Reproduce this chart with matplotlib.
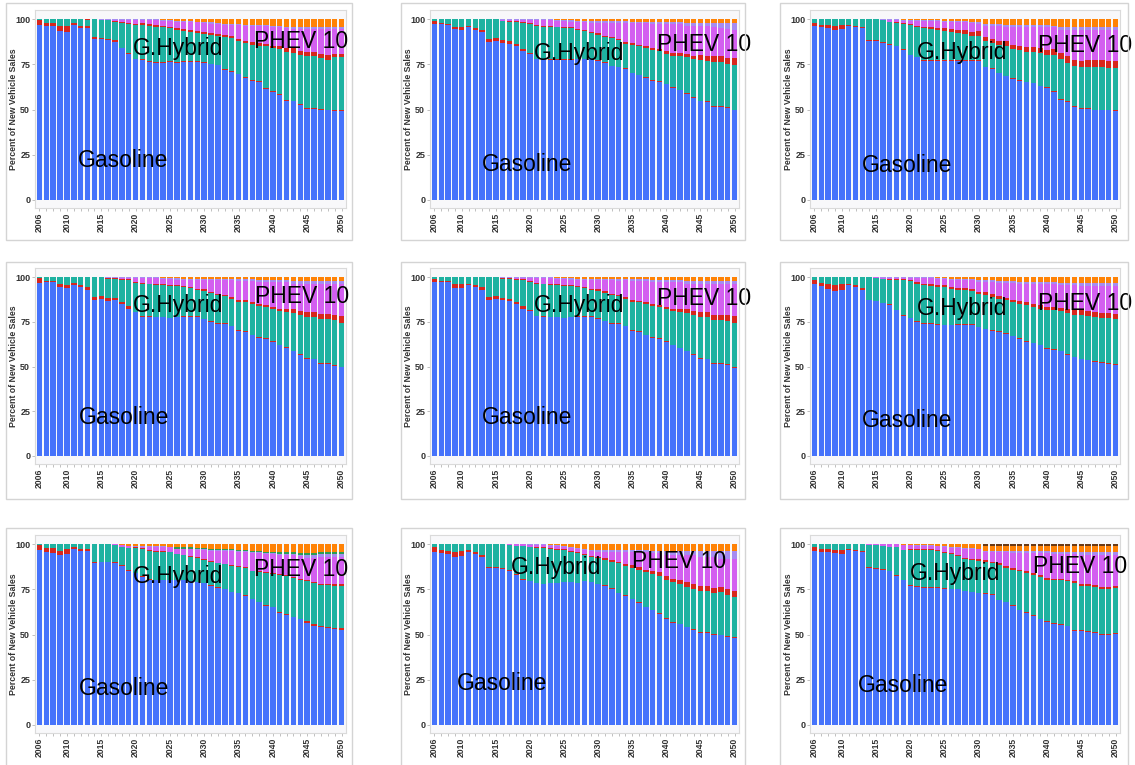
import numpy as np
import matplotlib
matplotlib.use("Agg")
import matplotlib.pyplot as plt
from matplotlib.patches import Rectangle

plt.rcParams['font.family'] = ['Liberation Sans', 'DejaVu Sans']

years = list(range(2006, 2051))
year_labels = [2006, 2010, 2015, 2020, 2025, 2030, 2035, 2040, 2045, 2050]
y_ticks = [0, 25, 50, 75, 100]

# shares of new vehicle sales, one row per scenario (left to right, top to bottom)
gasoline = [
    [97, 96.5, 96.5, 93.5, 93, 97, 95, 95, 89, 89.5, 89, 87.5, 84, 81, 78,
     77.5, 76.5, 76, 76, 76.5, 76, 76.5, 76.5, 76.5, 76, 75, 74.5, 72, 71, 69.5,
     67.5, 66, 65.5, 61.5, 60, 58, 55, 54.5, 52.5, 50.5, 50.5, 50, 49.5, 49, 49],
    [97.5, 97.5, 97, 94.5, 94, 95.5, 94, 93, 87.5, 88, 87, 86.5, 85, 82.5, 81,
     78, 78, 77.5, 77.5, 77.5, 77.5, 78, 78, 78, 77, 76, 74, 73.5, 72.5, 70,
     69, 67.5, 66, 65.5, 64, 62, 60.5, 58.5, 56.5, 54.5, 54, 51.5, 51.5, 51, 49.5],
    [96.5, 95.5, 95, 94, 94.5, 96.5, 95.5, 95, 88, 88, 87.5, 86, 85, 83, 80,
     79, 77, 77, 77, 77, 77, 77, 77, 77, 77, 73.5, 72.5, 70, 68.5, 67,
     66, 65, 64.5, 63, 62, 60, 55.5, 54, 51.5, 50.5, 50.5, 49.5, 49.5, 49.5, 49],
    [97, 97.5, 97.5, 94.5, 94, 95.5, 94.5, 93, 87.5, 88, 87, 87, 85, 82.5, 80.5,
     78, 78, 77.5, 77.5, 77, 77.5, 78, 78, 78, 76.5, 75, 74, 74, 72.5, 70,
     69.5, 67.5, 66, 65.5, 64, 62, 60.5, 58.5, 56.5, 54.5, 54, 51.5, 51.5, 50.5, 49.5],
    [97, 97.5, 97.5, 94, 94, 95.5, 94.5, 93, 87.5, 88, 87, 86.5, 85, 82.5, 81,
     78.5, 78, 77.5, 77.5, 77.5, 77.5, 78, 78, 78, 77, 75.5, 74, 73.5, 72.5, 70,
     69, 67.5, 66, 65.5, 64, 62, 60, 58.5, 56.5, 54.5, 54, 51.5, 51.5, 51, 49.5],
    [96, 95, 93.5, 92.5, 93, 95.5, 94.5, 93, 87, 86.5, 85.5, 84.5, 81.5, 78.5, 77,
     75, 74, 74, 73.5, 73, 73, 73.5, 73.5, 73.5, 72, 71, 70, 69.5, 68.5, 67,
     65.5, 64, 63, 62, 60, 59.5, 58.5, 56.5, 55, 54, 53.5, 52.5, 52, 51.5, 51],
    [97, 96, 95, 94, 94.5, 97.5, 96.5, 96.5, 89.5, 90, 90, 89.5, 88, 85.5, 84,
     82, 80.5, 80, 80, 80, 80, 80, 79.5, 79, 78.5, 77, 76, 75, 73.5, 73,
     71.5, 69.5, 68, 66, 65, 62, 61, 59.5, 58.5, 56.5, 55, 54, 53.5, 53, 52.5],
    [96, 95, 94.5, 93, 93.5, 96, 94.5, 93, 87, 87, 86.5, 85.5, 83, 80.5, 79.5,
     78.5, 78, 78.5, 78.5, 79, 79, 78.5, 79.5, 79, 78, 77, 75.5, 73, 71.5, 69.5,
     67.5, 65, 63.5, 61.5, 58.5, 56.5, 55.5, 54, 52.5, 51, 51, 50, 49.5, 48.5, 48],
    [96.5, 96, 95.5, 95, 94.5, 97, 96.5, 96, 87, 86.5, 86, 85, 82.5, 80, 77,
     76.5, 76, 76, 76, 75.5, 75, 75, 74, 73.5, 73, 72.5, 72, 69, 68, 66,
     63.5, 62, 60.5, 58.5, 57, 56, 55.5, 54.5, 52, 52, 51.5, 51, 50, 50, 50.5],
]

diesel = [
    [2.5, 1.5, 1.5, 3, 3.5, 1, 1.5, 1.5, 1, 0.8, 0.8, 1, 0.3, 0.3, 0.3,
     0.3, 0.3, 0.3, 0.3, 0.3, 0.3, 0.3, 0.3, 0.3, 0.3, 0.3, 0.3, 0.3, 0.3, 0.3,
     0.3, 0.3, 0.3, 0.5, 0.5, 0.5, 0.5, 0.5, 0.5, 0.5, 0.5, 0.5, 0.5, 0.5, 0.5],
    [1.5, 0.3, 0.3, 1.5, 1.5, 1, 1, 1.2, 1.5, 1.5, 1.5, 1.5, 1.2, 1.2, 0.3,
     0.3, 0.3, 0.3, 0.3, 0.3, 0.3, 0.3, 0.3, 0.3, 0.3, 0.3, 0.3, 0.3, 0.3, 0.3,
     0.3, 0.3, 0.3, 0.3, 0.3, 0.3, 0.3, 0.3, 0.3, 0.5, 0.5, 0.5, 0.5, 0.5, 0.5],
    [1.5, 1.5, 2, 2.5, 2.5, 0.5, 0.8, 0.8, 0.5, 0.5, 0.3, 0.3, 0.3, 0.3, 0.3,
     0.3, 0.5, 0.3, 0.3, 0.3, 0.3, 0.3, 0.3, 0.3, 0.3, 0.3, 0.3, 0.3, 0.3, 0.3,
     0.3, 0.3, 0.3, 0.3, 0.3, 0.3, 0.5, 0.5, 0.5, 0.5, 0.5, 0.5, 0.5, 0.5, 0.5],
    [2.5, 0.3, 0.3, 1.5, 1.5, 1.5, 1, 1.5, 1.5, 1.5, 1.5, 1.5, 1, 1.5, 0.3,
     0.3, 0.3, 0.3, 0.3, 0.3, 0.3, 0.3, 0.3, 0.3, 0.3, 0.3, 0.3, 0.3, 0.3, 0.3,
     0.3, 0.3, 0.3, 0.3, 0.3, 0.3, 0.3, 0.3, 0.3, 0.5, 0.5, 0.5, 0.5, 0.5, 0.5],
    [1.5, 0.3, 0.3, 2, 2, 1, 1, 1.5, 1.5, 1.5, 1, 1.5, 1, 1.5, 0.3,
     0.3, 0.3, 0.3, 0.3, 0.3, 0.3, 0.3, 0.3, 0.3, 0.3, 0.3, 0.3, 0.3, 0.3, 0.3,
     0.3, 0.3, 0.3, 0.3, 0.3, 0.3, 0.3, 0.3, 0.3, 0.5, 0.5, 0.5, 0.5, 0.5, 0.5],
    [2.5, 2, 3, 3, 3, 0.8, 1, 1, 0.5, 0.3, 0.3, 0.3, 0.3, 0.3, 0.3,
     0.3, 0.3, 0.3, 0.3, 0.3, 0.3, 0.3, 0.3, 0.3, 0.3, 0.3, 0.3, 0.3, 0.3, 0.3,
     0.3, 0.3, 0.3, 0.3, 0.3, 0.3, 0.3, 0.3, 0.3, 0.3, 0.3, 0.3, 0.3, 0.3, 0.3],
    [2.5, 2, 3, 2.5, 3, 0.8, 1, 0.8, 0.5, 0.3, 0.3, 0.5, 0.3, 0.3, 0.3,
     0.3, 0.3, 0.3, 0.3, 0.3, 0.3, 0.3, 0.3, 0.3, 0.3, 0.3, 0.3, 0.3, 0.3, 0.3,
     0.3, 0.3, 0.3, 0.3, 0.3, 0.3, 0.3, 0.3, 0.3, 1, 0.8, 0.8, 0.8, 0.8, 1],
    [2.5, 2, 2, 2.5, 3, 0.8, 1.5, 1, 0.3, 0.3, 0.3, 0.3, 0.3, 0.3, 0.3,
     0.3, 0.3, 0.3, 0.3, 0.3, 0.3, 0.3, 0.3, 0.3, 0.3, 0.3, 0.3, 0.3, 0.3, 0.3,
     0.3, 0.3, 0.3, 0.3, 0.3, 0.3, 0.3, 0.3, 0.3, 0.3, 0.5, 0.5, 0.5, 0.5, 0.5],
    [2, 1.5, 2, 2, 2.5, 0.3, 0.5, 0.5, 0.5, 0.5, 0.5, 0.3, 0.3, 0.3, 0.3,
     0.3, 0.3, 0.3, 0.3, 0.3, 0.3, 0.3, 0.3, 0.3, 0.3, 0.3, 0.3, 0.3, 0.3, 0.3,
     0.3, 0.3, 0.3, 0.3, 0.3, 0.3, 0.3, 0.3, 0.3, 0.3, 0.3, 0.3, 0.3, 0.3, 0.3],
]

g_hybrid = [
    [0.5, 2, 2, 3.5, 3.5, 2, 3.5, 3.2, 10, 9.7, 10.2, 10, 13.7, 16.2, 18.7,
     19.2, 19.7, 19.7, 19.2, 18.2, 17.7, 16.7, 16.2, 15.7, 15.7, 16.2, 16.2, 17.7, 18.2, 18.2,
     19.2, 19.7, 19.7, 23, 23.5, 25, 26.5, 26.5, 27, 28.5, 28.5, 28, 27.5, 29.5, 29.5],
    [1, 2.2, 2.7, 4, 4.5, 3.5, 5, 5.8, 11, 10.5, 10.5, 10.5, 12.3, 14.3, 16.2,
     18.2, 17.7, 18.2, 17.7, 17.2, 17.2, 15.7, 15.2, 14.2, 14.2, 13.7, 15.2, 14.7, 13.7, 15.7,
     15.7, 16.2, 16.7, 16.7, 16.5, 17.5, 18.5, 20, 21, 22.5, 22.5, 24.5, 24.5, 24, 24.5],
    [2, 3, 3, 3.5, 3, 3, 3.7, 4.2, 11.5, 11.5, 12.2, 12.2, 12.7, 14.2, 16.7,
     16.7, 17.5, 17.2, 16.7, 16.2, 15.7, 15.2, 14.7, 13.7, 13.7, 14.2, 14.2, 15.7, 16.7, 16.2,
     16.7, 16.7, 17.2, 18.2, 18.2, 20.2, 22, 21.5, 22, 22.5, 22.5, 23.5, 23.5, 23, 23.5],
    [0.5, 2.2, 2.2, 4, 4.5, 3, 4.5, 5.5, 11, 10.5, 11, 10.5, 12.5, 14.5, 16.2,
     18.2, 17.7, 17.7, 17.7, 17.7, 17.2, 16.2, 15.7, 14.7, 15.7, 15.7, 15.7, 15.2, 15.2, 15.7,
     16.2, 17.2, 17.7, 17.7, 17.7, 18.7, 19.7, 21.2, 22.2, 23, 23.5, 24.5, 24.5, 25, 24.5],
    [1, 2.2, 2.2, 4, 4, 3.5, 4.5, 5.5, 11, 10.5, 11, 11, 12.5, 14.5, 16,
     18, 17.7, 17.7, 17.7, 17.7, 17.2, 16.2, 15.7, 14.7, 15.7, 15.7, 15.7, 15.2, 15.2, 15.7,
     16.2, 17.2, 17.7, 17.7, 17.7, 18.7, 20, 21.2, 22.2, 23, 23.5, 24.5, 24.5, 24.5, 24.5],
    [1.5, 3, 3.5, 4.5, 4, 3.7, 4.5, 6, 12.5, 12.7, 13.2, 13.7, 16.7, 19.7, 20.7,
     21.2, 21.2, 20.7, 20.7, 21.2, 20.2, 19.2, 19.2, 18.7, 18.2, 18.7, 18.7, 18.2, 18.2, 18.7,
     19.2, 20.2, 20.2, 20.2, 21.2, 21.7, 22.2, 23, 23.5, 24.5, 24.5, 25, 25, 25.5, 25],
    [0.5, 2, 2, 3.5, 2.5, 1.7, 2.5, 2.7, 10, 9.7, 9.7, 9.5, 10.2, 12.2, 13.7,
     15.2, 15.7, 15.7, 15.7, 15.2, 14.2, 13.7, 13.2, 13.2, 12.7, 13.2, 13.2, 13.7, 14.2, 14.2,
     15.2, 15.2, 16.2, 17.7, 18.2, 20.7, 21.2, 21.7, 21.7, 22, 22.7, 22.7, 23.2, 23.2, 23.5],
    [1.5, 3, 3.5, 4.5, 3.5, 3.2, 4, 6, 12.7, 12.7, 13.2, 13.7, 15.7, 18.2, 18.7,
     19.2, 19.7, 18.7, 18.2, 17.7, 16.7, 16.2, 14.2, 13.7, 14.2, 14.2, 14.7, 16.2, 16.2, 17.2,
     18.2, 19.2, 19.7, 20.7, 21.5, 22, 22, 22, 22.5, 22.5, 22.5, 22.5, 23.5, 23, 22.5],
    [1.5, 2.5, 2.5, 3, 3, 2.7, 3, 3.5, 12, 12.5, 12.5, 13.2, 15.7, 16.7, 19.7,
     20.2, 20.7, 20.7, 20.2, 19.2, 19.2, 18.2, 17.7, 17.7, 17.7, 17.7, 17.2, 19.2, 18.7, 19.7,
     21.2, 21.7, 22.2, 23.2, 23.2, 23.7, 24.2, 24.7, 26.2, 24.7, 25.2, 25.2, 25.2, 25.2, 25.2],
]

d_hybrid = [
    [0, 0, 0, 0, 0, 0, 0, 0.3, 0, 0, 0, 0.5, 0.5, 0.5, 0.5,
     0.8, 0.8, 0.8, 0.8, 1, 1, 1, 1, 1, 1, 1, 1, 1.2, 1.2, 1.2,
     1.2, 1.5, 1.5, 1.5, 1.5, 2, 2, 2.5, 2.5, 2.5, 2.5, 2.5, 2.5, 2, 2],
    [0, 0, 0, 0, 0, 0, 0, 0, 0, 0, 0.3, 0.5, 0.5, 0.5, 0.5,
     0.5, 0.5, 0.5, 0.5, 0.5, 0.5, 0.5, 0.5, 0.5, 0.8, 0.8, 0.8, 0.8, 0.8, 1,
     1, 1, 1, 1, 1.5, 1.5, 2, 2, 2, 2.5, 2.5, 3, 3, 3, 4],
    [0, 0, 0, 0, 0, 0, 0, 0, 0, 0, 0, 0.3, 0.3, 0.5, 0.5,
     0.5, 1, 1, 1.2, 1.5, 1.5, 1.8, 2, 2, 2.5, 2.5, 2, 2, 2.5, 2.5,
     2.5, 2.5, 2.5, 2.5, 2.5, 3, 3.5, 3.5, 3.5, 3.5, 4, 4, 4, 4, 4],
    [0, 0, 0, 0, 0, 0, 0, 0, 0, 0, 0.3, 0.5, 0.5, 0.5, 0.5,
     0.5, 0.5, 0.5, 0.5, 0.5, 0.5, 0.5, 0.5, 0.5, 0.8, 0.8, 0.8, 0.8, 0.8, 1,
     1, 1, 1, 1, 1.5, 1.5, 2, 2, 2, 2.5, 2.5, 3, 3, 3, 4],
    [0, 0, 0, 0, 0, 0, 0, 0, 0, 0, 0.3, 0.5, 0.5, 0.5, 0.5,
     0.5, 0.5, 0.5, 0.5, 0.5, 0.5, 0.5, 0.5, 0.5, 0.8, 0.8, 0.8, 0.8, 0.8, 1,
     1, 1, 1, 1, 1.5, 1.5, 2, 2, 2, 2.5, 2.5, 3, 3, 3, 4],
    [0, 0, 0, 0, 0, 0, 0, 0, 0, 0.3, 0.3, 0.3, 0.3, 0.3, 0.5,
     1, 1, 1, 1, 1, 1, 1, 1, 1, 1.5, 1.5, 1.5, 1.5, 1.5, 1.5,
     1.5, 1.5, 1.5, 2, 2, 2, 2, 2, 2.5, 2.5, 2.5, 2.5, 2.5, 2.5, 3],
    [0, 0, 0, 0, 0, 0, 0, 0, 0, 0, 0, 0, 0, 0, 0.3,
     0.3, 0.3, 0.3, 0.3, 0.3, 0.3, 0.3, 0.3, 0.3, 0.3, 0.3, 0.3, 0.3, 0.3, 0.5,
     0.5, 0.5, 0.5, 0.5, 0.5, 0.5, 0.5, 0.5, 0.5, 0.8, 0.8, 0.8, 0.8, 0.8, 0.8],
    [0, 0, 0, 0, 0, 0, 0, 0, 0, 0, 0, 0.3, 0.3, 0.3, 0.3,
     0.3, 0.3, 0.3, 0.3, 0.5, 0.5, 0.5, 0.5, 0.5, 0.5, 1, 1, 1, 1, 1.5,
     1.5, 1.5, 1.5, 2, 2, 2, 2.5, 2.5, 2.5, 3, 3, 3, 3, 3, 3],
    [0, 0, 0, 0, 0, 0, 0, 0, 0, 0, 0, 0, 0, 0, 0.5,
     0.5, 0.5, 0.5, 0.5, 0.5, 0.5, 0.5, 0.5, 0.5, 1, 1, 1, 1, 1, 1,
     1, 1, 1, 1, 1, 1, 1, 1, 1, 1, 1, 1, 1, 1, 1],
]

phev10 = [
    [0, 0, 0, 0, 0, 0, 0, 0, 0, 0, 0, 0.5, 1, 1.5, 2,
     1.7, 2.2, 2.7, 2.9, 3, 3.5, 4, 4.5, 4.8, 5, 5.2, 5.2, 5.5, 6, 7.5,
     8, 8.7, 9.2, 9.7, 10.2, 10.2, 11.2, 10.7, 12.2, 12.5, 12.5, 13.5, 14.5, 13.5, 13.5],
    [0, 0, 0, 0, 0, 0, 0, 0, 0, 0, 0.2, 0.5, 0.5, 1, 1.5,
     2.5, 3, 3, 3.2, 3.5, 3.2, 3.9, 4.4, 5.2, 5.9, 7.4, 7.9, 8.9, 10.9, 11,
     11.8, 12.8, 13.5, 14, 15, 16, 16, 15.5, 16.5, 16.5, 17, 16, 15.5, 16, 15.5],
    [0, 0, 0, 0, 0, 0, 0, 0, 0, 0, 0, 0.7, 1.2, 1.3, 1.7,
     2.7, 3, 3.5, 3.8, 3.7, 4, 4.2, 4.5, 5, 4, 6, 7.5, 8.5, 8, 10,
     10.5, 11.5, 11.5, 12, 13, 12, 12.5, 14.5, 16.5, 17, 16.5, 16.5, 16.5, 17, 17],
    [0, 0, 0, 0, 0, 0, 0, 0, 0, 0, 0, 0, 0.5, 0.5, 2,
     2.5, 3, 3.5, 3.2, 3.5, 3.2, 3.4, 3.9, 4.7, 4.9, 6.4, 7.4, 7.9, 9.4, 11,
     10.8, 11.8, 12.5, 13, 14, 15, 15, 14.5, 15.5, 16, 16, 17, 17, 17.5, 18],
    [0, 0, 0, 0, 0, 0, 0, 0, 0, 0, 0, 0, 0.5, 0.5, 1.5,
     2.5, 3, 3.5, 3.2, 3.5, 3.2, 3.4, 3.9, 4.7, 4.9, 6, 7.4, 7.9, 9.4, 11,
     10.8, 11.8, 12.5, 13, 14, 15, 15, 14.5, 15.5, 16, 16, 17, 17, 17.5, 18],
    [0, 0, 0, 0, 0, 0, 0, 0, 0, 0.2, 0.2, 0.7, 0.7, 0.7, 1,
     2, 3, 3.5, 3.7, 3.5, 4.2, 4.5, 4.5, 5, 5.5, 6, 7, 7.5, 8.5, 9.5,
     10, 10.5, 11.5, 12, 12.5, 12.5, 12.5, 13.5, 14, 13.5, 14, 14.5, 15, 15, 15.5],
    [0, 0, 0, 0, 0, 0, 0, 0, 0, 0, 0, 0.5, 1, 1.2, 0.4,
     0.9, 1.9, 2.4, 2.4, 2.7, 2.6, 3.1, 4.1, 4.1, 5.1, 5.6, 6.6, 7.1, 8.1, 7.9,
     8.4, 9.9, 10.4, 10.4, 10.4, 10.4, 10.9, 11.9, 12.4, 12.4, 13.4, 14.9, 14.9, 15.4, 15.4],
    [0, 0, 0, 0, 0, 0, 0, 0, 0, 0, 0, 0.2, 0.7, 0.7, 0.7,
     1.2, 1.2, 1.4, 1.7, 1, 1.5, 2, 2.5, 3, 3, 3.5, 4.5, 5.5, 7, 7,
     8, 9.5, 10, 10.5, 11.5, 13, 13.5, 15, 16, 16, 16, 17, 15.5, 17, 18],
    [0, 0, 0, 0, 0, 0, 0, 0, 0.5, 0.5, 1, 1.5, 1.5, 2.7, 1.9,
     1.7, 1.7, 1.7, 1.9, 3.2, 3.2, 4.2, 5.2, 5.7, 5.2, 4.4, 5.4, 6.4, 7.9, 8.4,
     9.4, 10.4, 11.4, 12.4, 13.9, 13.9, 13.9, 14.4, 15.4, 16.2, 16.2, 16.7, 17.7, 17.7, 17.2],
]

phev40 = [
    [0, 0, 0, 0, 0, 0, 0, 0, 0, 0.5, 0.5, 0.5, 0.5, 0.5, 0.5,
     0.5, 0.5, 0.5, 0.5, 0.5, 0.5, 0.5, 0.5, 0.5, 0.5, 0.8, 0.8, 0.8, 0.8, 0.8,
     0.8, 0.8, 0.8, 0.8, 0.8, 0.8, 0.8, 0.8, 0.8, 1, 1, 1, 1, 1, 1],
    [0, 0, 0, 0, 0, 0, 0, 0, 0, 0, 0.5, 0.5, 0.5, 0.5, 0.5,
     0.5, 0.5, 0.5, 0.5, 0.5, 0.8, 0.8, 0.8, 0.8, 0.8, 0.8, 0.8, 0.8, 0.8, 0.8,
     1, 1, 1, 1, 1, 1, 1, 1.5, 1.5, 1.5, 1.5, 2.5, 3, 3.5, 4],
    [0, 0, 0, 0, 0, 0, 0, 0, 0, 0, 0.5, 0.5, 0.5, 0.5, 0.5,
     0.5, 0.5, 0.5, 0.5, 0.5, 0.5, 0.5, 0.5, 0.5, 1, 1, 1, 1, 1, 1,
     1, 1, 1, 1, 1, 1, 1.5, 1.5, 1.5, 1.5, 1.5, 1.5, 1.5, 1.5, 1.5],
    [0, 0, 0, 0, 0, 0, 0, 0, 0, 0, 0.5, 0.5, 0.5, 0.5, 0.5,
     0.5, 0.5, 0.5, 0.5, 0.5, 0.8, 0.8, 0.8, 0.8, 0.8, 0.8, 0.8, 0.8, 0.8, 0.8,
     1, 1, 1, 1, 1, 1, 1, 1.5, 1.5, 1.5, 1.5, 1.5, 1.5, 1.5, 1.5],
    [0, 0, 0, 0, 0, 0, 0, 0, 0, 0, 0.5, 0.5, 0.5, 0.5, 0.5,
     0.5, 0.5, 0.5, 0.5, 0.5, 0.8, 0.8, 0.8, 0.8, 0.8, 0.8, 0.8, 0.8, 0.8, 0.8,
     1, 1, 1, 1, 1, 1, 1, 1.5, 1.5, 1.5, 1.5, 2, 2, 2, 2],
    [0, 0, 0, 0, 0, 0, 0, 0, 0, 0, 0.5, 0.5, 0.5, 0.5, 0.5,
     0.5, 0.5, 0.5, 0.5, 0.5, 0.5, 0.5, 0.5, 0.5, 1, 1, 1, 1, 1, 1,
     1, 1, 1, 1, 1.5, 1.5, 1.5, 1.5, 1.5, 2, 2, 2, 2, 2, 2],
    [0, 0, 0, 0, 0, 0, 0, 0, 0, 0, 0, 0, 0, 0, 0.3,
     0.3, 0.3, 0.3, 0.3, 0.3, 0.3, 0.3, 0.3, 0.3, 0.3, 0.3, 0.3, 0.3, 0.3, 0.3,
     0.3, 0.3, 0.3, 0.3, 0.8, 0.8, 0.8, 0.8, 0.8, 1.5, 1.5, 1.5, 1.5, 1.5, 1.5],
    [0, 0, 0, 0, 0, 0, 0, 0, 0, 0, 0, 0, 0, 0, 0.5,
     0.5, 0.5, 0.5, 0.5, 0.5, 0.5, 0.5, 0.5, 0.5, 1, 1, 1, 1, 1, 1.5,
     1.5, 1.5, 1.5, 1.5, 2.5, 2.5, 2.5, 2.5, 2.5, 3.5, 3.5, 3.5, 4.5, 4.5, 4.5],
    [0, 0, 0, 0, 0, 0, 0, 0, 0, 0, 0, 0, 0, 0, 0.3,
     0.3, 0.3, 0.3, 0.3, 0.3, 0.3, 0.3, 0.3, 0.3, 0.3, 0.3, 0.3, 0.3, 0.3, 0.8,
     0.8, 0.8, 0.8, 0.8, 0.8, 0.8, 0.8, 0.8, 0.8, 1.5, 1.5, 1.5, 1.5, 1.5, 1.5],
]

# small "other" band, only present in one scenario
other = [
    None, None, None, None, None, None,
    [0, 0, 0, 0, 0, 0, 0, 0, 0, 0, 0, 0, 0, 0, 0,
     0, 0, 0, 0, 0, 0.8, 0.8, 0.8, 0.8, 0.8, 0.8, 0.8, 0.8, 0.8, 0.8,
     0.8, 0.8, 0.8, 0.8, 0.8, 0.8, 0.8, 0.8, 0.8, 0.8, 0.8, 0.8, 0.8, 0.8, 0.8],
    None, None,
]

electric = [
    [0, 0, 0, 0, 0, 0, 0, 0, 0, 0, 0, 0, 0, 0, 0,
     0, 0, 0, 0.3, 0.5, 1, 1, 1, 1.2, 1.5, 1.5, 2, 2.5, 2.5, 2.5,
     3, 3, 3, 3, 3.5, 3.5, 4, 4.5, 4.5, 4.5, 4.5, 4.5, 4.5, 4.5, 4.5],
    [0, 0, 0, 0, 0, 0, 0, 0, 0, 0, 0, 0, 0, 0, 0,
     0, 0, 0, 0.3, 0.5, 0.5, 0.8, 0.8, 1, 1, 1, 1, 1, 1, 1.2,
     1.2, 1.2, 1.5, 1.5, 1.5, 1.5, 1.5, 2, 2, 2, 2, 2, 2, 2, 2],
    [0, 0, 0, 0, 0, 0, 0, 0, 0, 0, 0, 0, 0, 0.2, 0.3,
     0.3, 0.5, 0.5, 0.5, 0.8, 1, 1, 1, 1.5, 1.5, 2.5, 2.5, 2.5, 3, 3,
     3, 3, 3, 3, 3, 3.5, 4.5, 4.5, 4.5, 4.5, 4.5, 4.5, 4.5, 4.5, 4.5],
    [0, 0, 0, 0, 0, 0, 0, 0, 0, 0, 0, 0, 0, 0, 0,
     0, 0, 0, 0.3, 0.5, 0.5, 0.8, 0.8, 1, 1, 1, 1, 1, 1, 1.2,
     1.2, 1.2, 1.5, 1.5, 1.5, 1.5, 1.5, 2, 2, 2, 2, 2, 2, 2, 2],
    [0, 0, 0, 0, 0, 0, 0, 0, 0, 0, 0, 0, 0, 0, 0,
     0, 0, 0, 0.3, 0.5, 0.5, 0.8, 0.8, 1, 1, 1, 1, 1, 1, 1.2,
     1.2, 1.2, 1.5, 1.5, 1.5, 1.5, 1.5, 2, 2, 2, 2, 2, 2, 2, 2],
    [0, 0, 0, 0, 0, 0, 0, 0, 0, 0, 0, 0, 0, 0, 0,
     0, 0, 0, 0.3, 0.5, 0.8, 1, 1, 1, 1.5, 1.5, 1.5, 2, 2, 2,
     2.5, 2.5, 2.5, 2.5, 2.5, 2.5, 3, 3, 3, 3, 3, 3, 3, 3, 3],
    [0, 0, 0, 0, 0, 0, 0, 0, 0, 0, 0, 0, 0.5, 0.8, 1,
     1, 1, 1, 1, 1.2, 1.5, 1.5, 1.5, 2, 2, 2.5, 2.5, 2.5, 2.5, 3,
     3, 3.5, 3.5, 4, 4, 4.5, 4.5, 4.5, 5, 5, 5, 4.5, 4.5, 4.5, 4.5],
    [0, 0, 0, 0, 0, 0, 0, 0, 0, 0, 0, 0, 0, 0, 0,
     0, 0, 0.3, 0.5, 1, 1.5, 2, 2.5, 3, 3, 3, 3, 3, 3, 3,
     3, 3, 3.5, 3.5, 3.5, 3.5, 3.5, 3.5, 3.5, 3.5, 3.5, 3.5, 3.5, 3.5, 3.5],
    [0, 0, 0, 0, 0, 0, 0, 0, 0, 0, 0, 0, 0, 0.3, 0.3,
     0.5, 0.5, 0.5, 0.8, 1, 1.5, 1.5, 2, 2, 2.5, 3, 3, 3, 3, 3,
     3, 3, 3, 3, 3, 3.5, 3.5, 3.5, 3.5, 3.5, 3.5, 3.5, 3.5, 3.5, 3.5],
]

fuel_cell = [
    None, None, None, None, None, None, None, None,
    [0, 0, 0, 0, 0, 0, 0, 0, 0, 0, 0, 0, 0, 0, 0,
     0, 0, 0, 0, 0, 0, 0, 0, 0, 0, 0.8, 0.8, 0.8, 0.8, 0.8,
     0.8, 0.8, 0.8, 0.8, 0.8, 0.8, 0.8, 0.8, 0.8, 0.8, 0.8, 0.8, 0.8, 0.8, 0.8],
]

# label positions (year, percent) for each panel: Gasoline, G.Hybrid, PHEV 10
label_pos = [
    [(2011.6, 22), (2019.6, 84), (2037.2, 88)],
    [(2013.0, 19.5), (2020.6, 81), (2038.6, 86)],
    [(2013.0, 19), (2021.0, 81.5), (2038.6, 85.5)],
    [(2011.8, 21.7), (2019.6, 84), (2037.4, 89)],
    [(2013.0, 21.5), (2020.6, 84), (2038.6, 88)],
    [(2013.0, 19.5), (2021.0, 82.5), (2038.6, 85.5)],
    [(2011.7, 20), (2019.6, 82), (2037.2, 86)],
    [(2009.3, 23), (2017.2, 87), (2035.0, 90.5)],
    [(2012.3, 21.5), (2020.0, 84), (2037.9, 88)],
]
label_text = ["Gasoline", "G.Hybrid", "PHEV 10"]

colors = ['#4673fb', '#d8261c', '#1eb2a1', '#d8261c', '#d35ff0',
          '#a68cf1', '#2b9d55', '#ff8205', '#6b3a16']

W, H = 1135, 765
fig = plt.figure(figsize=(W / 100, H / 100), dpi=100)

col_px = [(35, 346), (430, 739), (810, 1120)]
row_px = [(10, 208), (268, 464), (535, 733)]
box_col = [(6, 352), (401, 745), (780, 1128)]
box_row = [(3, 240), (262, 499), (528, 775)]

for k in range(9):
    r, c = divmod(k, 3)

    bx0, bx1 = box_col[c]
    by0, by1 = box_row[r]
    fig.patches.append(Rectangle((bx0 / W, 1 - by1 / H), (bx1 - bx0) / W, (by1 - by0) / H,
                                 transform=fig.transFigure, fill=False,
                                 edgecolor='#d4d4d4', lw=1.0))

    x0, x1 = col_px[c]
    y0, y1 = row_px[r]
    ax = fig.add_axes([x0 / W, 1 - y1 / H, (x1 - x0) / W, (y1 - y0) / H])
    ax.set_facecolor('#f8f8fa')

    n = len(years)
    layers = [gasoline[k], diesel[k], g_hybrid[k], d_hybrid[k], phev10[k], phev40[k],
              other[k] if other[k] is not None else [0] * n,
              electric[k],
              fuel_cell[k] if fuel_cell[k] is not None else [0] * n]
    stack = np.array(layers, dtype=float)
    pct = stack / stack.sum(axis=0) * 100

    bottom = np.zeros(n)
    for vals, col in zip(pct, colors):
        ax.bar(years, vals, bottom=bottom, width=0.8, color=col, linewidth=0)
        bottom += vals

    ax.set_xlim(2005.35, 2050.65)
    ax.set_ylim(-4.6, 105.2)
    ax.set_yticks(y_ticks)
    ax.set_yticklabels([str(v) for v in y_ticks], fontsize=6.5, fontweight='bold')
    ax.set_xticks(years)
    ax.set_xticklabels([str(y) if y in year_labels else '' for y in years],
                       rotation=90, fontsize=6.2, fontweight='bold')
    ax.tick_params(axis='both', length=2, width=0.6, color='#b5b5b5',
                   pad=1.5, labelcolor='#333333')
    ax.set_ylabel("Percent of New Vehicle Sales", fontsize=6.3, fontweight='bold',
                  color='#333333')
    ax.yaxis.set_label_coords(-17 / (x1 - x0), 0.5)
    for sp in ax.spines.values():
        sp.set_color('#dadada')
        sp.set_linewidth(0.8)

    for (lx, ly), txt in zip(label_pos[k], label_text):
        ax.text(lx, ly, txt, fontsize=16.5, ha='left', va='center', color='black')

fig.savefig("out.png", dpi=100)
